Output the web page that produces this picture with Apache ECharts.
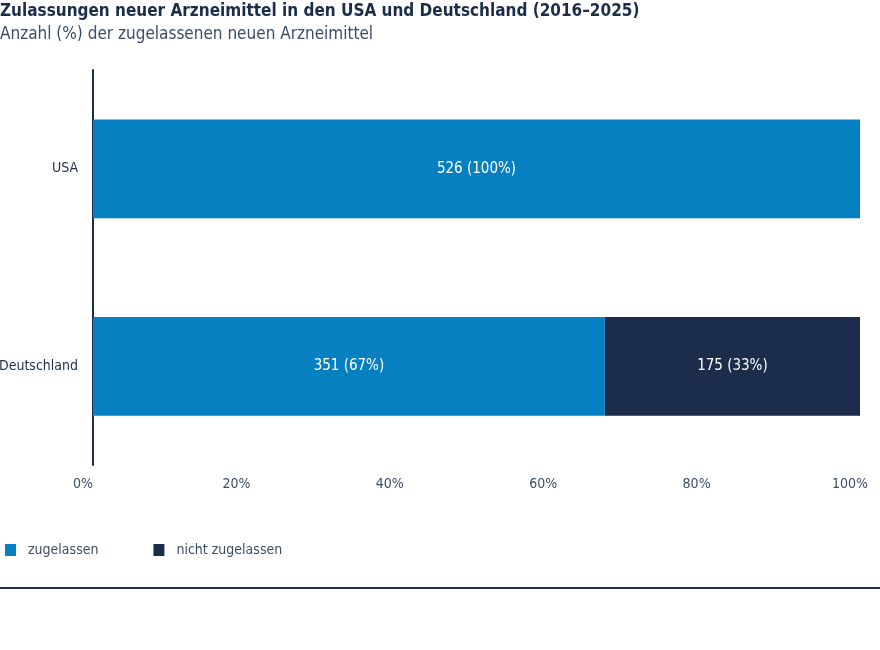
<!DOCTYPE html>
<head>
    <meta charset="utf-8">
    <title>ECharts</title>
    <script type="text/javascript" src="https://cdn.jsdelivr.net/npm/echarts@6/dist/echarts.min.js"></script>
</head>

<body style="margin:0">
<div id="main" style="width:880px;height:650px"></div>

<script type="text/javascript">
    // Daten
    var laender = ['USA', 'Deutschland'];
    var anzahlZugelassen = [526, 351];
    var anzahlNicht = [0, 175];
    var prozentZugelassen = [100, 67];
    var prozentNicht = [0, 33];
    var achsenTicks = [0, 20, 40, 60, 80, 100];

    var schrift = "'Liberation Sans Narrow', 'DejaVu Sans Condensed', sans-serif";
    var dunkel = '#1b2d4b';
    var blau = '#0780c2';
    var grau = '#3d4b66';

    // Anteile fuer die Balken (genau, nicht gerundet)
    function anteil(a, b) {
        var res = [];
        for (var i = 0; i < a.length; i++) {
            res.push(a[i] / (a[i] + b[i]) * 100);
        }
        return res;
    }
    var wertZu = anteil(anzahlZugelassen, anzahlNicht);
    var wertNicht = anteil(anzahlNicht, anzahlZugelassen);

    function labelFn(anzahl, prozent) {
        return function (p) {
            if (!anzahl[p.dataIndex]) return '';
            return anzahl[p.dataIndex] + ' (' + prozent[p.dataIndex] + '%)';
        };
    }

    var myChart = echarts.init(document.getElementById('main'));
    var option = {
        animation: false,
        textStyle: { fontFamily: schrift, color: dunkel },
        title: {
            text: 'Zulassungen neuer Arzneimittel in den USA und Deutschland (2016–2025)',
            subtext: 'Anzahl (%) der zugelassenen neuen Arzneimittel',
            left: 0, top: 3, padding: [0, 0, 0, 0], itemGap: 6,
            textStyle: { fontFamily: schrift, fontSize: 17, fontWeight: 'bold', color: dunkel },
            subtextStyle: { fontFamily: schrift, fontSize: 17, color: grau }
        },
        legend: {
            left: 0, top: 538, itemWidth: 11, itemHeight: 12, itemGap: 55,
            icon: 'rect',
            textStyle: { fontFamily: schrift, fontSize: 14, color: grau, padding: [0, 0, 0, 7] },
            data: ['zugelassen', 'nicht zugelassen']
        },
        grid: { left: 93, right: 20, top: 70, bottom: 185, containLabel: false, outerBoundsMode: 'none' },
        xAxis: {
            type: 'value', min: 0, max: 100, interval: 20,
            axisLine: { show: false }, axisTick: { show: false }, splitLine: { show: false },
            axisLabel: {
                fontFamily: schrift, fontSize: 14, color: grau, margin: 12,
                padding: [0, 20, 0, 0],
                formatter: function (v) { return achsenTicks.indexOf(v) >= 0 ? v + '%' : ''; }
            }
        },
        yAxis: {
            type: 'category', inverse: true, data: laender,
            axisLine: { lineStyle: { color: dunkel, width: 2 } },
            axisTick: { show: false },
            axisLabel: { fontFamily: schrift, fontSize: 14, color: dunkel, margin: 15, padding: [0, 0, 8, 0] }
        },
        series: [
            {
                name: 'zugelassen', type: 'bar', stack: 'a', barWidth: '50%',
                itemStyle: { color: blau },
                label: { show: true, position: 'inside', color: '#fff', fontFamily: schrift, fontSize: 15,
                    padding: [3, 0, 0, 0],
                    formatter: labelFn(anzahlZugelassen, prozentZugelassen) },
                data: wertZu
            },
            {
                name: 'nicht zugelassen', type: 'bar', stack: 'a', barWidth: '50%',
                itemStyle: { color: dunkel },
                label: { show: true, position: 'inside', color: '#fff', fontFamily: schrift, fontSize: 15,
                    padding: [3, 0, 0, 0],
                    formatter: labelFn(anzahlNicht, prozentNicht) },
                data: wertNicht
            }
        ],
        graphic: [
            { type: 'rect', shape: { x: 0, y: 587, width: 880, height: 2 }, style: { fill: dunkel } }
        ]
    };
    myChart.setOption(option);
</script>
</body>
